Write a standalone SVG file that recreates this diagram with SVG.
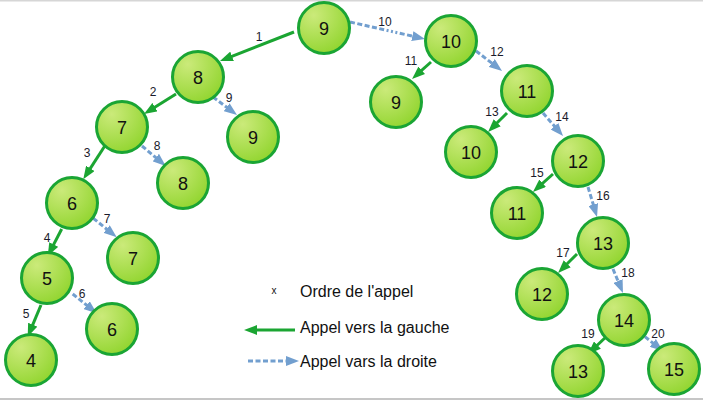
<svg xmlns="http://www.w3.org/2000/svg" width="703" height="400" viewBox="0 0 703 400">
<defs>
<radialGradient id="g" cx="0.3" cy="0.25" r="0.85">
<stop offset="0" stop-color="#cbea7a"/>
<stop offset="1" stop-color="#8fd42c"/>
</radialGradient>
<marker id="ag" markerUnits="userSpaceOnUse" markerWidth="13" markerHeight="10" refX="5" refY="5" orient="auto">
<path d="M0,0 L13,5 L0,10 z" fill="#1ba532"/>
</marker>
<marker id="ab" markerUnits="userSpaceOnUse" markerWidth="13" markerHeight="10" refX="5" refY="5" orient="auto">
<path d="M0,0 L13,5 L0,10 z" fill="#729fcf"/>
</marker>
<style>
.n circle{fill:url(#g);stroke:#1aa534;stroke-width:3}
.n text{font-family:"Liberation Sans",Arial,sans-serif;font-size:18px;fill:#111;text-anchor:middle}
.l{stroke:#1ba532;stroke-width:3;fill:none;marker-end:url(#ag)}
.r{stroke:#729fcf;stroke-width:3;fill:none;stroke-dasharray:5 2.5 5 2.5 5 2.5 5 2.5 5 2.5 2 2.5 2 2.5 2 2.5;marker-end:url(#ab)}
.e{font-family:"Liberation Sans",Arial,sans-serif;font-size:12px;fill:#1a1a2a;text-anchor:middle}
.lg{font-family:"Liberation Sans",Arial,sans-serif;font-size:16px;fill:#111}
</style>
</defs>
<rect x="0" y="0" width="703" height="1.5" fill="#d6d6d6"/>
<rect x="0" y="398" width="703" height="2" fill="#c6c6c6"/>
<g id="connectors">
<line class="l" x1="294" y1="32" x2="227.4" y2="58.1"/>
<line class="l" x1="176" y1="94" x2="150.8" y2="109.8"/>
<line class="l" x1="106.7" y1="143" x2="87.6" y2="172.6"/>
<line class="l" x1="61.7" y1="229" x2="51.4" y2="248.9"/>
<line class="l" x1="41" y1="305" x2="30.8" y2="329.3"/>
<line class="r" x1="72.7" y1="294" x2="90.5" y2="308.3"/>
<line class="r" x1="93.3" y1="218.3" x2="110.5" y2="232.2"/>
<line class="r" x1="142" y1="146" x2="159.6" y2="160.8"/>
<line class="r" x1="213" y1="97" x2="230.6" y2="110.2"/>
<line class="r" x1="350" y1="22" x2="417.2" y2="37.2"/>
<line class="l" x1="431" y1="62" x2="418" y2="73.7"/>
<line class="r" x1="476" y1="51" x2="495.7" y2="66.1"/>
<line class="l" x1="507" y1="113" x2="493.7" y2="126.3"/>
<line class="r" x1="543" y1="113" x2="557.8" y2="130"/>
<line class="l" x1="553" y1="174" x2="538.9" y2="186.6"/>
<line class="r" x1="588" y1="187" x2="594.7" y2="209.3"/>
<line class="l" x1="577" y1="254" x2="563.7" y2="267.3"/>
<line class="r" x1="613" y1="269" x2="619.9" y2="285.6"/>
<line class="l" x1="608" y1="335" x2="593.8" y2="348.5"/>
<line class="r" x1="639" y1="332" x2="656.7" y2="346"/>
<text class="e" x="259" y="41">1</text>
<text class="e" x="153" y="96">2</text>
<text class="e" x="87" y="157">3</text>
<text class="e" x="47" y="242" fill="#102060">4</text>
<text class="e" x="26" y="318" fill="#102060">5</text>
<text class="e" x="82" y="298">6</text>
<text class="e" x="107" y="223">7</text>
<text class="e" x="157" y="150">8</text>
<text class="e" x="229" y="102">9</text>
<text class="e" x="385" y="26">10</text>
<text class="e" x="411" y="65">11</text>
<text class="e" x="497" y="56">12</text>
<text class="e" x="492" y="116">13</text>
<text class="e" x="562" y="121">14</text>
<text class="e" x="537" y="177">15</text>
<text class="e" x="603" y="200">16</text>
<text class="e" x="563" y="257">17</text>
<text class="e" x="628" y="277">18</text>
<text class="e" x="588" y="338">19</text>
<text class="e" x="658" y="338">20</text>
</g>
<g id="n1" class="n"><circle cx="324" cy="28" r="25.5"/><text x="324" y="34.5">9</text></g>
<g id="n2" class="n"><circle cx="198" cy="77" r="25.5"/><text x="198" y="83.5">8</text></g>
<g id="n3" class="n"><circle cx="451" cy="41" r="25.5"/><text x="451" y="47.5">10</text></g>
<g id="n4" class="n"><circle cx="396" cy="102" r="25.5"/><text x="396" y="108.5">9</text></g>
<g id="n5" class="n"><circle cx="253" cy="137" r="25.5"/><text x="253" y="143.5">9</text></g>
<g id="n6" class="n"><circle cx="122" cy="127" r="25.5"/><text x="122" y="133.5">7</text></g>
<g id="n7" class="n"><circle cx="183" cy="183" r="25.5"/><text x="183" y="189.5">8</text></g>
<g id="n8" class="n"><circle cx="72" cy="203" r="25.5"/><text x="72" y="209.5">6</text></g>
<g id="n9" class="n"><circle cx="133" cy="258" r="25.5"/><text x="133" y="264.5">7</text></g>
<g id="n10" class="n"><circle cx="47" cy="278" r="25.5"/><text x="47" y="284.5">5</text></g>
<g id="n11" class="n"><circle cx="112" cy="329" r="25.5"/><text x="112" y="335.5">6</text></g>
<g id="n12" class="n"><circle cx="31" cy="360" r="25.5"/><text x="31" y="366.5">4</text></g>
<g id="n13" class="n"><circle cx="527" cy="91" r="25.5"/><text x="527" y="97.5">11</text></g>
<g id="n14" class="n"><circle cx="471" cy="152" r="25.5"/><text x="471" y="158.5">10</text></g>
<g id="n15" class="n"><circle cx="578" cy="161" r="25.5"/><text x="578" y="167.5">12</text></g>
<g id="n16" class="n"><circle cx="517" cy="213" r="25.5"/><text x="517" y="219.5">11</text></g>
<g id="n17" class="n"><circle cx="603" cy="243" r="25.5"/><text x="603" y="249.5">13</text></g>
<g id="n18" class="n"><circle cx="542" cy="294" r="25.5"/><text x="542" y="300.5">12</text></g>
<g id="n19" class="n"><circle cx="624" cy="320" r="25.5"/><text x="624" y="326.5">14</text></g>
<g id="n20" class="n"><circle cx="578" cy="371" r="25.5"/><text x="578" y="377.5">13</text></g>
<g id="n21" class="n"><circle cx="674" cy="369" r="25.5"/><text x="674" y="375.5">15</text></g>
<g id="legend">
<text x="274" y="294" style="font-family:'Liberation Sans',Arial,sans-serif;font-size:10px;fill:#111;text-anchor:middle">x</text>
<text class="lg" x="300" y="297">Ordre de l'appel</text>
<line class="l" x1="295" y1="330" x2="252" y2="330"/>
<text class="lg" x="300" y="333">Appel vers la gauche</text>
<line class="r" x1="248" y1="361" x2="291" y2="361"/>
<text class="lg" x="300" y="367">Appel vars la droite</text>
</g>
</svg>
